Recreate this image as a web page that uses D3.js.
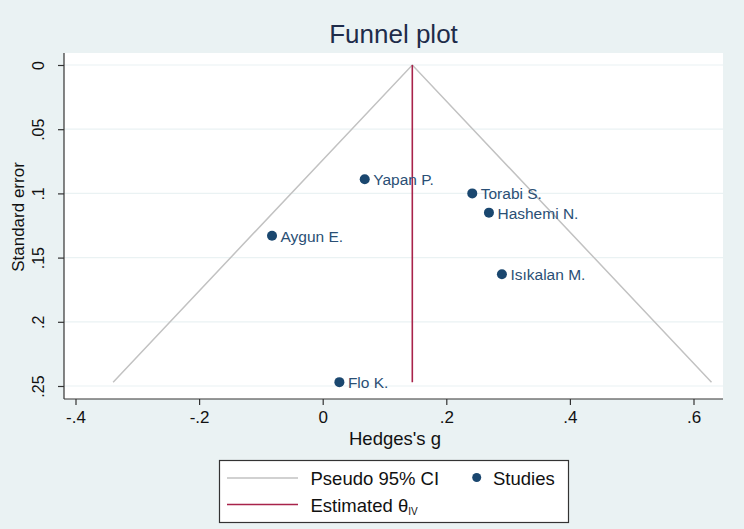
<!DOCTYPE html>
<html>
<head>
<meta charset="utf-8">
<script src="https://cdn.jsdelivr.net/npm/d3@7"></script>
<style>
  html, body { margin: 0; padding: 0; background: #eaf2f3; }
  svg { display: block; font-family: "Liberation Sans", Arial, sans-serif; }
</style>
</head>
<body>
<svg id="chart" width="744" height="529"></svg>
<script>
// ---- data ----
const studies = ["Yapan P.", "Torabi S.", "Hashemi N.", "Aygun E.", "Isıkalan M.", "Flo K."];
const hedgesG = [0.068, 0.242, 0.269, -0.082, 0.290, 0.027];
const stdErr  = [0.089, 0.100, 0.115, 0.133, 0.163, 0.247];
const thetaIV = 0.145;
const seMax = 0.247;
const zCrit = 1.96;
const xTicks = [-0.4, -0.2, 0, 0.2, 0.4, 0.6];
const xTickLabels = ["-.4", "-.2", "0", ".2", ".4", ".6"];
const yTicks = [0, 0.05, 0.1, 0.15, 0.2, 0.25];
const yTickLabels = ["0", ".05", ".1", ".15", ".2", ".25"];

const svg = d3.select("#chart");
const W = 744, H = 529;
const plot = { left: 64, right: 723, top: 53, bottom: 399 };

svg.append("rect").attr("width", W).attr("height", H).attr("fill", "#eaf2f3");

const x = d3.scaleLinear().domain([-0.4, 0.6]).range([75.5, 693.5]);
const y = d3.scaleLinear().domain([0, 0.25]).range([65, 386]);

// plot region
svg.append("rect")
  .attr("x", plot.left).attr("y", plot.top)
  .attr("width", plot.right - plot.left).attr("height", plot.bottom - plot.top)
  .attr("fill", "#ffffff");

// gridlines
svg.append("g").selectAll("line").data(yTicks).join("line")
  .attr("x1", plot.left).attr("x2", plot.right)
  .attr("y1", d => y(d)).attr("y2", d => y(d))
  .attr("stroke", "#eaf2f3").attr("stroke-width", 1.2);

// pseudo CI funnel
const funnel = [
  [thetaIV - zCrit * seMax, seMax],
  [thetaIV, 0],
  [thetaIV + zCrit * seMax, seMax]
];
svg.append("path")
  .attr("d", d3.line().x(d => x(d[0])).y(d => y(d[1]))(funnel))
  .attr("fill", "none").attr("stroke", "#c2c2c2").attr("stroke-width", 1.5);

// estimated theta line
svg.append("line")
  .attr("x1", x(thetaIV)).attr("x2", x(thetaIV))
  .attr("y1", y(0)).attr("y2", y(seMax))
  .attr("stroke", "#a8234a").attr("stroke-width", 1.6);

// points
const pts = studies.map((s, i) => ({ name: s, g: hedgesG[i], se: stdErr[i] }));
const pg = svg.append("g");
pg.selectAll("circle").data(pts).join("circle")
  .attr("cx", d => x(d.g)).attr("cy", d => y(d.se)).attr("r", 5)
  .attr("fill", "#1a476f");
pg.selectAll("text").data(pts).join("text")
  .attr("x", d => x(d.g) + 8.5).attr("y", d => y(d.se) + 6)
  .attr("font-size", 15.5).attr("fill", "#2a4f75")
  .text(d => d.name);

// x axis
const xAxis = d3.axisBottom(x).tickValues(xTicks)
  .tickFormat((d, i) => xTickLabels[i]).tickSize(6).tickSizeOuter(0).tickPadding(6);
const gx = svg.append("g").attr("transform", `translate(0,${plot.bottom})`).call(xAxis);
gx.select(".domain").remove();
gx.append("line").attr("x1", plot.left).attr("x2", plot.right).attr("y1", 0).attr("y2", 0)
  .attr("stroke", "#333").attr("stroke-width", 1.2);
gx.selectAll(".tick line").attr("stroke", "#333").attr("stroke-width", 1.2);
gx.selectAll(".tick text").attr("font-size", 17).attr("fill", "#111")
  .attr("font-family", "Liberation Sans, Arial, sans-serif");

// y axis
const yAxis = d3.axisLeft(y).tickValues(yTicks)
  .tickFormat((d, i) => yTickLabels[i]).tickSize(6).tickSizeOuter(0);
const gy = svg.append("g").attr("transform", `translate(${plot.left},0)`).call(yAxis);
gy.select(".domain").remove();
gy.append("line").attr("x1", 0).attr("x2", 0).attr("y1", plot.top).attr("y2", plot.bottom)
  .attr("stroke", "#333").attr("stroke-width", 1.2);
gy.selectAll(".tick line").attr("stroke", "#333").attr("stroke-width", 1.2);
gy.selectAll(".tick text")
  .attr("font-size", 16).attr("fill", "#111")
  .attr("font-family", "Liberation Sans, Arial, sans-serif")
  .attr("x", null).attr("dy", null)
  .attr("text-anchor", "middle")
  .attr("transform", "translate(-20,0) rotate(-90)");

// titles
svg.append("text").attr("x", 393.5).attr("y", 43).attr("text-anchor", "middle")
  .attr("font-size", 26).attr("fill", "#1e2c4a").text("Funnel plot");
svg.append("text").attr("x", 395).attr("y", 445).attr("text-anchor", "middle")
  .attr("font-size", 18.5).attr("fill", "#111").text("Hedges's g");
svg.append("text").attr("transform", "translate(24,217) rotate(-90)")
  .attr("text-anchor", "middle").attr("font-size", 17).attr("fill", "#111")
  .text("Standard error");

// legend
const lg = svg.append("g");
lg.append("rect").attr("x", 219.5).attr("y", 460.5).attr("width", 349).attr("height", 62)
  .attr("fill", "#ffffff").attr("stroke", "#333").attr("stroke-width", 1.2);
lg.append("line").attr("x1", 227).attr("x2", 298).attr("y1", 478).attr("y2", 478)
  .attr("stroke", "#c2c2c2").attr("stroke-width", 1.5);
lg.append("text").attr("x", 310.5).attr("y", 485).attr("font-size", 18.5).attr("fill", "#111")
  .text("Pseudo 95% CI");
lg.append("circle").attr("cx", 476.7).attr("cy", 477.5).attr("r", 4.5).attr("fill", "#1a476f");
lg.append("text").attr("x", 493).attr("y", 485).attr("font-size", 18.5).attr("fill", "#111")
  .text("Studies");
lg.append("line").attr("x1", 227).attr("x2", 298).attr("y1", 504.5).attr("y2", 504.5)
  .attr("stroke", "#a8234a").attr("stroke-width", 1.6);
const est = lg.append("text").attr("x", 310.5).attr("y", 512).attr("font-size", 18.5).attr("fill", "#111");
est.append("tspan").text("Estimated θ");
est.append("tspan").attr("font-size", 10).attr("dy", 3).text("IV");
</script>
</body>
</html>
